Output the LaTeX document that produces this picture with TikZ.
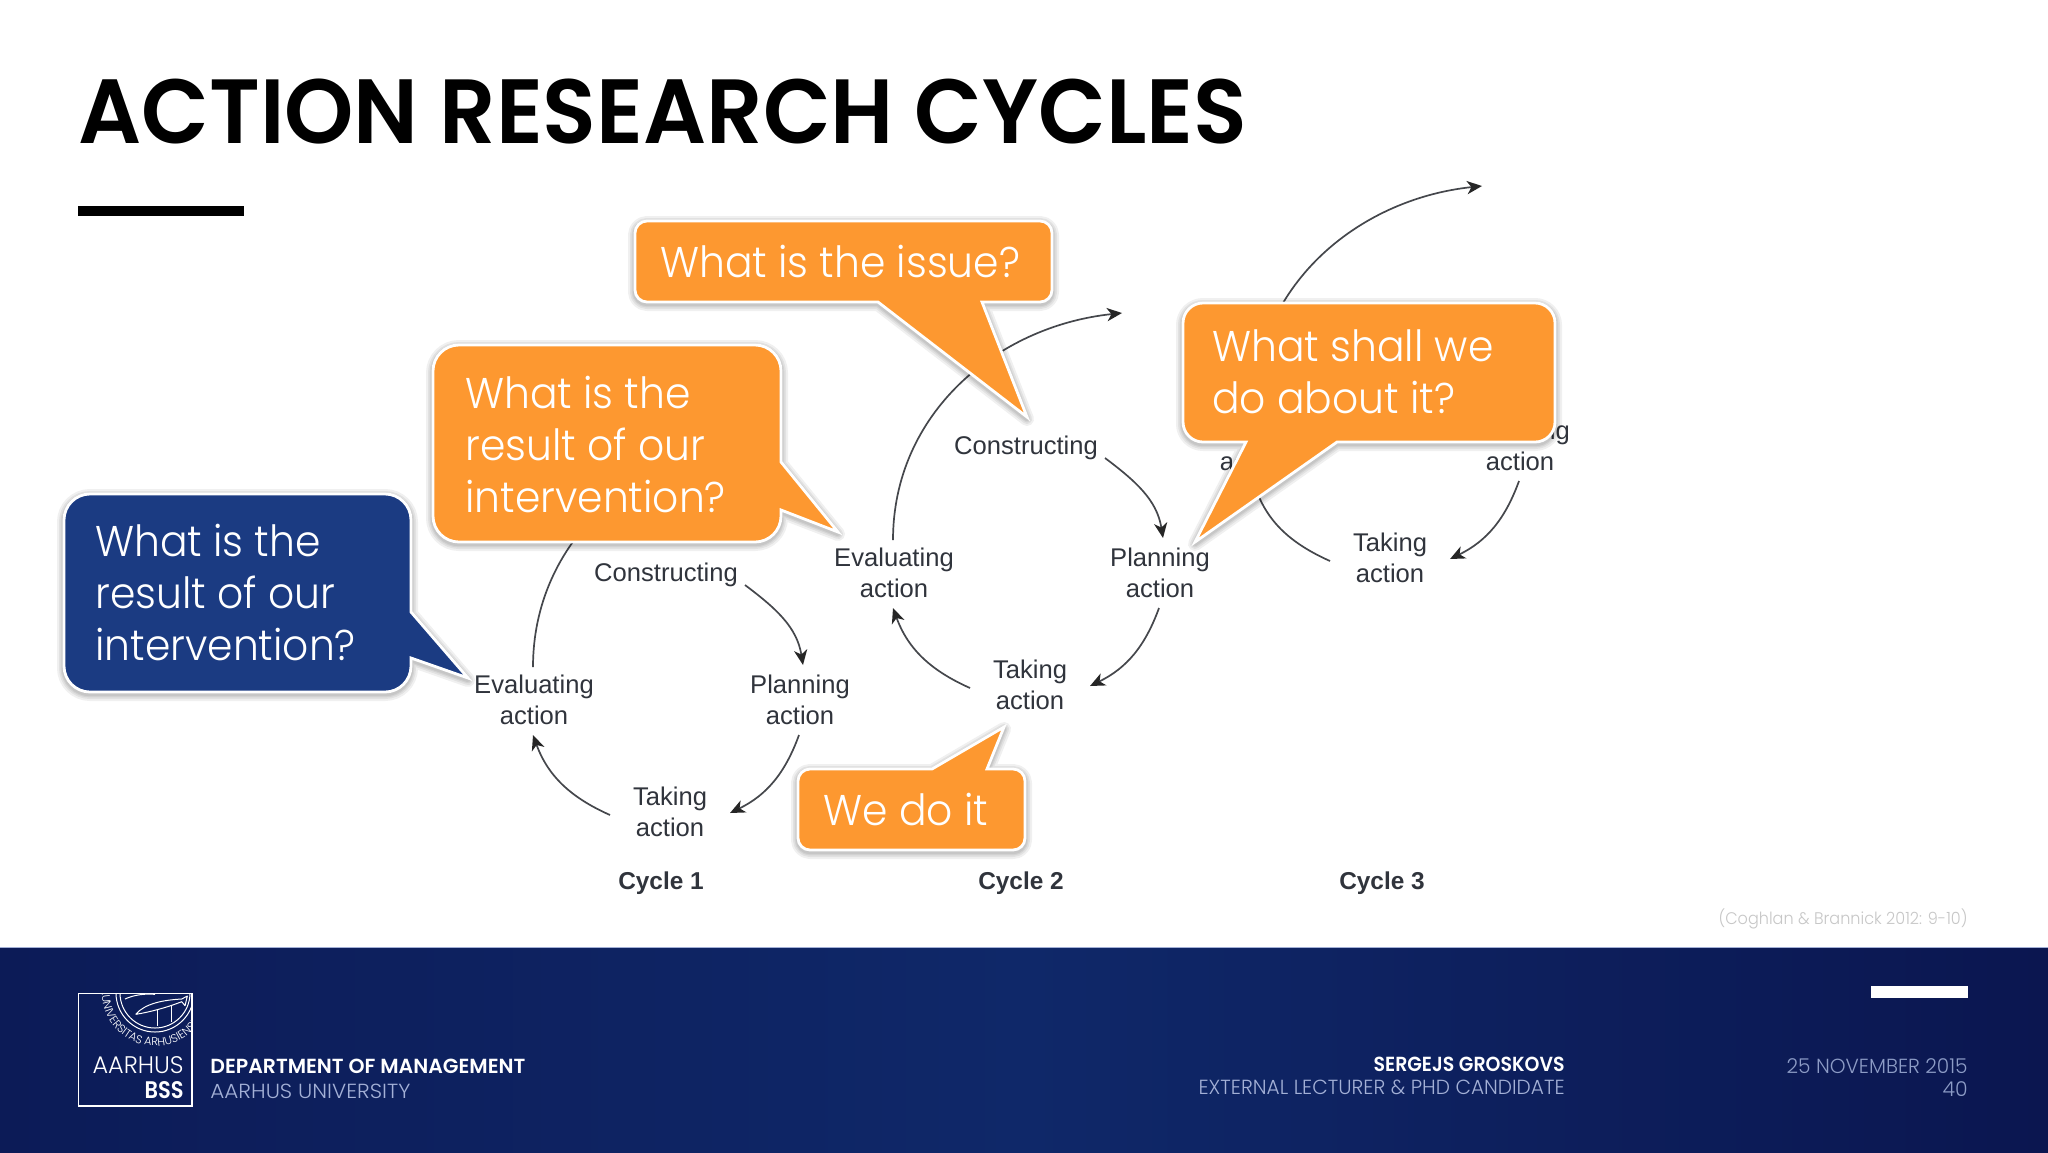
\documentclass[tikz,border=0pt]{standalone}
\usepackage{fontspec}
\usepackage{graphicx}
\usetikzlibrary{arrows.meta,decorations.text}
\setmainfont{Poppins}[UprightFont=* Light,BoldFont=* SemiBold]
\newfontfamily\bubfont{Poppins}[UprightFont=* Light,FakeStretch=0.95]
\newfontfamily\diagfont{Liberation Sans}
\definecolor{orangeb}{HTML}{FD9830}
\definecolor{blueb}{HTML}{1B3B82}
\definecolor{footL}{HTML}{0C1B57}
\definecolor{footM}{HTML}{0F2869}
\definecolor{footR}{HTML}{0B1650}
\definecolor{pale}{HTML}{A3B0D6}
\definecolor{diagtext}{HTML}{30343C}
\definecolor{diagline}{HTML}{45474C}
\tikzset{
  px/.style={x=0.5pt,y=-0.5pt},
  lab/.style={inner sep=0pt,align=center,text=diagtext,font=\diagfont\fontsize{12.8}{15.5}\selectfont},
  cyclab/.style={inner sep=0pt,text=diagtext,font=\diagfont\bfseries\fontsize{12.2}{14}\selectfont},
  conn/.style={draw=diagline,line width=0.85pt,-{Stealth[length=7.5pt,width=6.6pt,inset=2.2pt,color=black!85]}},
  btext/.style={inner sep=0pt,anchor=base west,align=left,text=white,font=\bubfont\fontsize{21.5}{25.8}\selectfont},
  ftext/.style={inner sep=0pt,font=\fontsize{10.2}{12}\selectfont},
}
\newcommand{\fitw}[2]{\resizebox{#1pt}{\height}{#2}}
% bubble: fill colour, path
\newcommand{\bubble}[2]{%
  \begin{scope}[shift={(0,2)}]
  \foreach \w in {7,5,3.4,2.2}{\draw[black,opacity=.06,line width=\w pt,line join=round] #2;}
  \end{scope}
  \draw[white,line width=1.4pt,line join=miter,fill=#1] #2;}
% one whole cycle with its four labels
\newcommand{\cycle}[3]{%
  \begin{scope}[shift={(#2,#3)}]
  \node[lab] (#1con) at (666,575) {Constructing};
  \node[lab] (#1plan) at (800,700) {Planning\\action};
  \node[lab] (#1take) at (670,812) {Taking\\action};
  \node[lab] (#1eval) at (534,700) {Evaluating\\action};
  \coordinate (#1next) at (762,440);
  \draw[conn] ([shift={(79,10)}]#1con.center) to[out=-37,in=99] ([shift={(3,-35)}]#1plan.center);
  \draw[conn] ([shift={(-1,35)}]#1plan.center) to[out=-110,in=26] ([shift={(60,1)}]#1take.center);
  \draw[conn] ([shift={(-60,3)}]#1take.center) to[out=156,in=-70] ([shift={(-1,35)}]#1eval.center);
  \draw[conn] ([shift={(-1,-33)}]#1eval.center) to[out=90,in=186] (#1next);
  \end{scope}}
\begin{document}
\begin{tikzpicture}[px]
\useasboundingbox (0,0) rectangle (2048,1152);
\fill[white] (0,0) rectangle (2048,1152);
% title
\node[inner sep=0pt,anchor=base west,font=\bfseries\fontsize{45.6}{50}\selectfont,text=black] (title) at (78,143) {\fitw{584.5}{ACTION RESEARCH CYCLES}};
\fill[black] (78,206) rectangle (244,216);
% footer
\shade[left color=footL,right color=footR,middle color=footM] (0,947) rectangle (2048,1152);
\draw[pale,line width=.5pt] (0,947) -- (2048,947);
\fill[white] (1871,986) rectangle (1968,998);
\node[ftext,anchor=base east,text=black!22,font=\fontsize{8.4}{10}\selectfont] (cite) at (1968,924) {\fitw{124.5}{(Coghlan \& Brannick 2012: 9-10)}};
% logo
\draw[white,line width=.8pt] (78.5,993.5) rectangle (192,1106);
\begin{scope}
  \clip (78.5,993.5) rectangle (192,1106);
  \coordinate (seal) at (155,993);
  \draw[white,line width=.5pt] (seal) circle[radius=39];
  \draw[white,line width=.5pt] (seal) circle[radius=35];
  \path[decorate,decoration={text along path,text align=left,text color=white,
    text={|\fontsize{5.7}{7}\selectfont|.UNIVERSITAS ARHUSIENSIS}}]
    (seal) ++(180:53) arc[start angle=180,end angle=-60,radius=53];
  \begin{scope}[shift={(70,985)},x=0.1667pt,y=-0.1667pt]
    \draw[white,line width=.5pt,line join=round]
      (197,88) .. controls (225,55) and (280,45) .. (335,42) -- (352,33) -- (345,62) -- (335,50)
      .. controls (290,68) and (235,82) .. (197,88);
    \draw[white,line width=.5pt] (262,75) -- (262,122) (305,60) -- (305,112);
    \draw[white,line width=.5pt] (165,42) .. controls (190,30) and (225,25) .. (255,28);
  \end{scope}
\end{scope}
\node[inner sep=0pt,anchor=base east,text=white,font=\fontsize{12}{14}\selectfont] (aarhus) at (184,1073) {\fitw{45.5}{AARHUS}};
\node[inner sep=0pt,anchor=base east,text=white,font=\bfseries\fontsize{12}{14}\selectfont] (bss) at (184,1098) {\fitw{19.5}{BSS}};
\node[ftext,anchor=base west,text=white] (dept) at (210,1073) {\fitw{157.5}{\textbf{DEPARTMENT OF MANAGEMENT}}};
\node[ftext,anchor=base west,text=pale] (au) at (210,1098) {\fitw{100}{AARHUS UNIVERSITY}};
\node[ftext,anchor=base east,text=white] (name) at (1565,1071) {\fitw{95.5}{\textbf{SERGEJS GROSKOVS}}};
\node[ftext,anchor=base east,text=pale] (role) at (1565,1094) {\fitw{183}{EXTERNAL LECTURER \& PHD CANDIDATE}};
\node[ftext,anchor=base east,text=pale!85!footM] (date) at (1968,1073) {\fitw{90.5}{25 NOVEMBER 2015}};
\node[ftext,anchor=base east,text=pale!85!footM] (page) at (1968,1096) {40};
% diagram
\cycle{a}{0}{0}
\cycle{b}{360}{-127}
\begin{scope}[shift={(720,-254)}]
  \node[lab] (cplan) at (800,700) {Planning\\action};
  \node[lab] (ctake) at (670,812) {Taking\\action};
  \node[lab] (ceval) at (534,700) {Evaluating\\action};
  \coordinate (cnext) at (762,440);
  \draw[conn] ([shift={(-1,35)}]cplan.center) to[out=-110,in=26] ([shift={(60,1)}]ctake.center);
  \draw[conn] ([shift={(-60,3)}]ctake.center) to[out=156,in=-70] ([shift={(-1,35)}]ceval.center);
  \draw[conn] ([shift={(-1,-33)}]ceval.center) to[out=90,in=186] (cnext);
\end{scope}
\node[cyclab] (c1) at (661,883) {Cycle 1};
\node[cyclab] (c2) at (1021,883) {Cycle 2};
\node[cyclab] (c3) at (1382,883) {Cycle 3};
% bubbles
\bubble{blueb}{[rounded corners=13pt] (240,494) -- (411,494) [sharp corners] -- (411,612) -- (468,678) -- (411,658) [rounded corners=13pt] -- (411,692) -- (64,692) -- (64,494) -- cycle}
\node[btext] (tblue) at (95,660) {What is the\\result of our\\intervention?};
\bubble{orangeb}{[rounded corners=13pt] (600,345) -- (781,345) [sharp corners] -- (781,462) -- (838,532) -- (781,510) [rounded corners=13pt] -- (781,542) -- (433,542) -- (433,345) -- cycle}
\node[btext] (torange) at (465,512) {What is the\\result of our\\intervention?};
\bubble{orangeb}{[rounded corners=6pt] (800,221) -- (1052,221) -- (1052,302) [sharp corners] -- (982,302) -- (1027,417) -- (878,302) [rounded corners=6pt] -- (635,302) -- (635,221) -- cycle}
\node[btext] (tissue) at (660,277) {What is the issue?};
\bubble{orangeb}{[rounded corners=10pt] (1400,303) -- (1555,303) -- (1555,442) [sharp corners] -- (1337,442) -- (1195,542) -- (1246,442) [rounded corners=10pt] -- (1183,442) -- (1183,303) -- cycle}
\node[btext] (tshall) at (1212,413) {What shall we\\do about it?};
\bubble{orangeb}{[sharp corners] (850,769) -- (932,769) -- (1004,727) -- (987,769) [rounded corners=6pt] -- (1025,769) -- (1025,850) -- (798,850) -- (798,769) -- cycle}
\node[btext] (tdo) at (823,825) {We do it};
\end{tikzpicture}
\end{document}
